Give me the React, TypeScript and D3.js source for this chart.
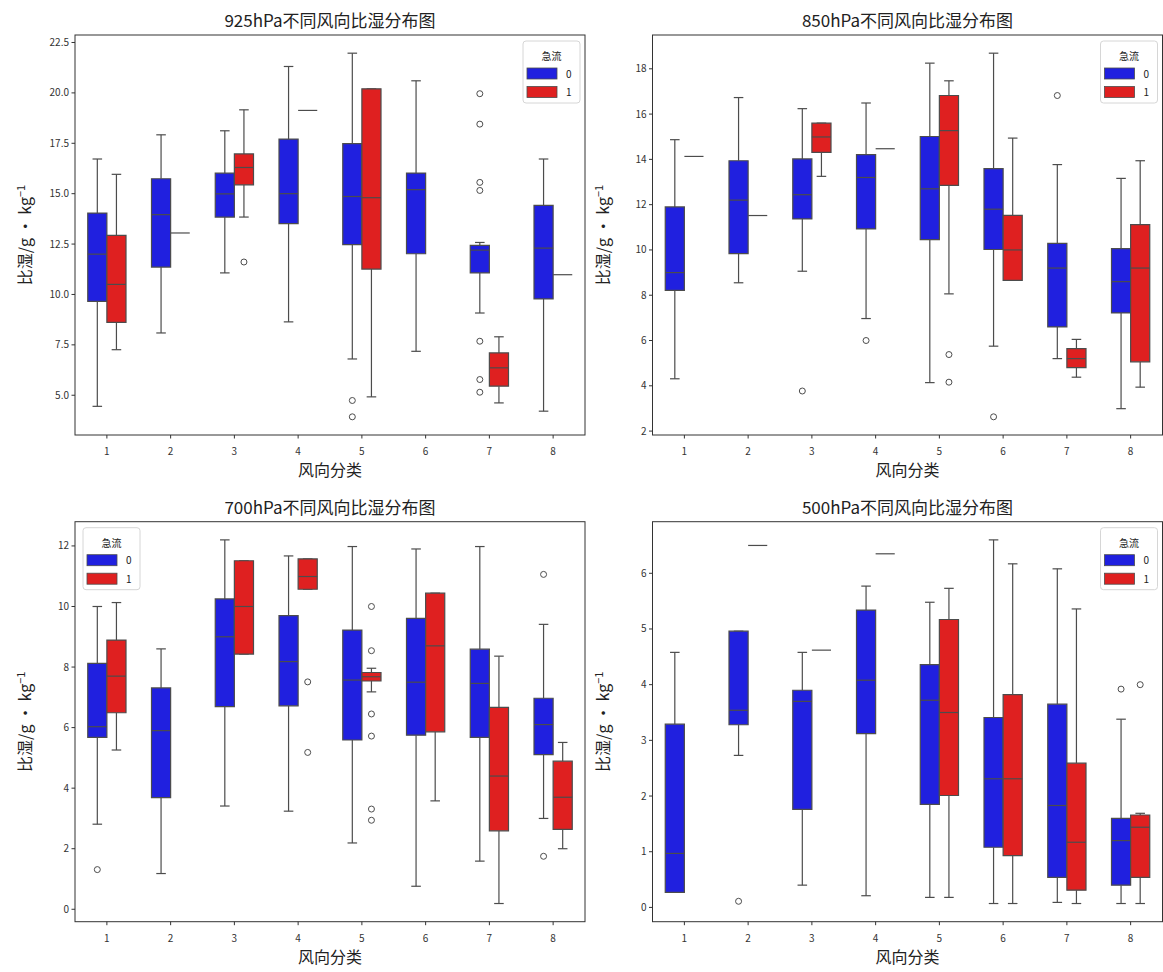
import * as d3 from "d3";

// 风向分类 and 急流 groups
const categories = ["1", "2", "3", "4", "5", "6", "7", "8"];
const jetLevels = ["0", "1"];

// box stats per category: [lower whisker, q1, median, q3, upper whisker]
// a single value means the group had one sample (drawn as a flat line)
const hpa925Jet0 = [
  [4.45, 9.66, 12.0, 14.04, 16.72],
  [8.09, 11.36, 13.96, 15.74, 17.92],
  [11.07, 13.84, 14.99, 16.02, 18.12],
  [8.64, 13.51, 15.0, 17.71, 21.31],
  [6.8, 12.47, 14.86, 17.48, 21.97],
  [7.18, 12.02, 15.2, 16.02, 20.6],
  [9.08, 11.07, 12.2, 12.44, 12.58],
  [4.21, 9.78, 12.3, 14.42, 16.72],
];
const hpa925Jet1 = [
  [7.26, 8.62, 10.5, 12.93, 15.96],
  [13.05],
  [13.84, 15.44, 16.3, 16.97, 19.16],
  [19.13],
  [4.92, 11.26, 14.8, 20.2, 20.2],
  null,
  [4.62, 5.45, 6.36, 7.1, 7.9],
  [10.98],
];
const hpa925Fliers0 = [[], [], [], [], [4.74, 3.93], [], [19.96, 18.45, 15.56, 15.16, 7.68, 5.78, 5.15], []];
const hpa925Fliers1 = [[], [], [11.61], [], [], [], [], []];

const hpa850Jet0 = [
  [4.31, 8.21, 9.0, 11.9, 14.87],
  [8.55, 9.84, 12.2, 13.94, 16.73],
  [9.06, 11.37, 12.44, 14.02, 16.24],
  [6.97, 10.93, 13.2, 14.21, 16.49],
  [4.14, 10.46, 12.7, 15.01, 18.25],
  [5.75, 10.02, 11.8, 13.59, 18.69],
  [5.2, 6.6, 9.2, 10.29, 13.77],
  [2.99, 7.22, 8.6, 10.06, 13.16],
];
const hpa850Jet1 = [
  [14.13],
  [11.52],
  [13.25, 14.31, 14.99, 15.6, 15.6],
  [14.47],
  [8.06, 12.85, 15.27, 16.82, 17.47],
  [8.66, 8.66, 10.0, 11.53, 14.94],
  [4.38, 4.8, 5.2, 5.64, 6.05],
  [3.94, 5.06, 9.2, 11.12, 13.94],
];
const hpa850Fliers0 = [[], [], [3.77], [6.0], [], [2.63], [16.82], []];
const hpa850Fliers1 = [[], [], [], [], [5.38, 4.16], [], [], []];

const hpa700Jet0 = [
  [2.81, 5.68, 6.03, 8.12, 10.0],
  [1.18, 3.69, 5.9, 7.31, 8.6],
  [3.41, 6.69, 9.0, 10.25, 12.2],
  [3.24, 6.72, 8.18, 9.7, 11.67],
  [2.19, 5.59, 7.57, 9.22, 11.98],
  [0.76, 5.75, 7.5, 9.61, 11.9],
  [1.59, 5.68, 7.46, 8.59, 11.98],
  [3.0, 5.11, 6.1, 6.97, 9.41],
];
const hpa700Jet1 = [
  [5.26, 6.49, 7.7, 8.89, 10.13],
  null,
  [8.43, 8.43, 10.0, 11.51, 11.51],
  [10.57, 10.57, 10.99, 11.57, 11.57],
  [7.18, 7.54, 7.68, 7.82, 7.96],
  [3.58, 5.86, 8.7, 10.44, 10.44],
  [0.19, 2.59, 4.4, 6.67, 8.36],
  [2.0, 2.64, 3.7, 4.89, 5.51],
];
const hpa700Fliers0 = [[1.31], [], [], [], [], [], [], [11.06, 1.75]];
const hpa700Fliers1 = [[], [], [], [7.51, 5.18], [10.0, 8.54, 6.45, 5.72, 3.31, 2.94], [], [], []];

const hpa500Jet0 = [
  [0.27, 0.27, 0.97, 3.29, 4.58],
  [2.73, 3.28, 3.54, 4.96, 4.96],
  [0.4, 1.76, 3.7, 3.9, 4.58],
  [0.21, 3.12, 4.08, 5.34, 5.77],
  [0.18, 1.85, 3.72, 4.36, 5.48],
  [0.07, 1.08, 2.31, 3.41, 6.6],
  [0.09, 0.54, 1.83, 3.65, 6.08],
  [0.07, 0.4, 1.2, 1.6, 3.38],
];
const hpa500Jet1 = [
  null,
  [6.5],
  [4.62],
  [6.35],
  [0.18, 2.01, 3.5, 5.17, 5.73],
  [0.07, 0.93, 2.31, 3.82, 6.17],
  [0.07, 0.31, 1.17, 2.59, 5.36],
  [0.07, 0.54, 1.44, 1.66, 1.69],
];
const hpa500Fliers0 = [[], [0.11], [], [], [], [], [], [3.92]];
const hpa500Fliers1 = [[], [], [], [], [], [], [], [4.0]];

const ticks925 = [5.0, 7.5, 10.0, 12.5, 15.0, 17.5, 20.0, 22.5];
const ticks850 = [2, 4, 6, 8, 10, 12, 14, 16, 18];
const ticks700 = [0, 2, 4, 6, 8, 10, 12];
const ticks500 = [0, 1, 2, 3, 4, 5, 6];

const colors = ["#2020df", "#df2020"];
const gray = "#4c4c4c";
const font = "'Noto Sans CJK SC', 'DejaVu Sans', sans-serif";

const W = 510;
const H = 400;

const panels = [
  { title: "925hPa不同风向比湿分布图", left: 75, top: 35, stats: [hpa925Jet0, hpa925Jet1], fliers: [hpa925Fliers0, hpa925Fliers1], ticks: ticks925, fmt: ".1f", legendLeft: false },
  { title: "850hPa不同风向比湿分布图", left: 652.5, top: 35, stats: [hpa850Jet0, hpa850Jet1], fliers: [hpa850Fliers0, hpa850Fliers1], ticks: ticks850, fmt: "d", legendLeft: false },
  { title: "700hPa不同风向比湿分布图", left: 75, top: 521.7, stats: [hpa700Jet0, hpa700Jet1], fliers: [hpa700Fliers0, hpa700Fliers1], ticks: ticks700, fmt: "d", legendLeft: true },
  { title: "500hPa不同风向比湿分布图", left: 652.5, top: 521.7, stats: [hpa500Jet0, hpa500Jet1], fliers: [hpa500Fliers0, hpa500Fliers1], ticks: ticks500, fmt: "d", legendLeft: false },
];

const Legend = ({ x, y }: { x: number; y: number }) => (
  <g transform={`translate(${x},${y})`}>
    <rect width={57} height={62} rx={3} fill="white" fillOpacity={0.85} stroke="#d6d6d6" />
    <text x={28.5} y={19} textAnchor="middle" fontSize={10} fill="#222">急流</text>
    {jetLevels.map((lv, i) => (
      <g key={lv}>
        <rect x={4} y={27 + i * 18.5} width={30} height={11} fill={colors[i]} stroke={gray} strokeWidth={0.8} />
        <text x={43} y={36.5 + i * 18.5} fontSize={10} fill="#222">{lv}</text>
      </g>
    ))}
  </g>
);

const Panel = ({ p }: { p: (typeof panels)[number] }) => {
  const x = d3.scaleBand().domain(categories).range([p.left, p.left + W]).padding(0);
  const bw = x.bandwidth();
  const boxW = bw * 0.3;

  const all: number[] = [];
  p.stats.forEach((s) => s.forEach((v) => v && all.push(...v)));
  p.fliers.forEach((f) => f.forEach((v) => all.push(...v)));
  const [lo, hi] = d3.extent(all) as [number, number];
  const pad = (hi - lo) * 0.05;
  const y = d3.scaleLinear().domain([lo - pad, hi + pad]).range([p.top + H, p.top]);
  const fmt = d3.format(p.fmt);
  const bottom = p.top + H;

  return (
    <g fontFamily={font}>
      <text x={p.left + W / 2} y={p.top - 8} textAnchor="middle" fontSize={17} fill="#222">{p.title}</text>

      {categories.map((c, ci) =>
        p.stats.map((series, hi2) => {
          const s = series[ci];
          const center = x(c)! + bw / 2;
          const x0 = hi2 === 0 ? center - boxW : center;
          const x1 = x0 + boxW;
          const xm = (x0 + x1) / 2;
          const fl = p.fliers[hi2][ci];
          if (!s) return null;
          if (s.length === 1) {
            return <line key={c + hi2} x1={x0} x2={x1} y1={y(s[0])} y2={y(s[0])} stroke={gray} strokeWidth={1.2} />;
          }
          const [wl, q1, med, q3, wh] = s;
          const capHalf = boxW / 4;
          return (
            <g key={c + hi2}>
              <line x1={xm} x2={xm} y1={y(q3)} y2={y(wh)} stroke={gray} strokeWidth={1.2} />
              <line x1={xm} x2={xm} y1={y(q1)} y2={y(wl)} stroke={gray} strokeWidth={1.2} />
              <line x1={xm - capHalf} x2={xm + capHalf} y1={y(wh)} y2={y(wh)} stroke={gray} strokeWidth={1.2} />
              <line x1={xm - capHalf} x2={xm + capHalf} y1={y(wl)} y2={y(wl)} stroke={gray} strokeWidth={1.2} />
              <path d={`M${x0},${y(q1)}L${x1},${y(q1)}L${x1},${y(q3)}L${x0},${y(q3)}Z`} fill={colors[hi2]} stroke={gray} strokeWidth={1.2} />
              <line x1={x0} x2={x1} y1={y(med)} y2={y(med)} stroke={gray} strokeWidth={1.2} />
              {fl.map((v, k) => (
                <circle key={k} cx={xm} cy={y(v)} r={3} fill="none" stroke={gray} strokeWidth={1} />
              ))}
            </g>
          );
        })
      )}

      <rect x={p.left} y={p.top} width={W} height={H} fill="none" stroke="#333" strokeWidth={1} />

      {p.ticks.map((t) => (
        <g key={t}>
          <line x1={p.left - 3.5} x2={p.left} y1={y(t)} y2={y(t)} stroke="#333" />
          <text x={p.left - 6} y={y(t)} dy="0.35em" textAnchor="end" fontSize={10} fill="#333">{fmt(t)}</text>
        </g>
      ))}
      {categories.map((c) => (
        <g key={c}>
          <line x1={x(c)! + bw / 2} x2={x(c)! + bw / 2} y1={bottom} y2={bottom + 3.5} stroke="#333" />
          <text x={x(c)! + bw / 2} y={bottom + 20} textAnchor="middle" fontSize={10} fill="#333">{c}</text>
        </g>
      ))}

      <text x={p.left + W / 2} y={bottom + 41} textAnchor="middle" fontSize={16} fill="#222">风向分类</text>
      <text transform={`translate(${p.left - 44},${p.top + H / 2}) rotate(-90)`} textAnchor="middle" fontSize={16} fill="#222">
        <tspan>比湿/g · kg</tspan>
        <tspan dy={-6} fontSize={11}>−1</tspan>
      </text>

      <Legend x={p.legendLeft ? p.left + 8 : p.left + W - 62} y={p.top + 6} />
    </g>
  );
};

export default function App() {
  return (
    <div style={{ position: "absolute", left: 0, top: 0 }}>
      <svg width={1163} height={972} viewBox="0 0 1163 972" style={{ display: "block", background: "white" }}>
        {panels.map((p) => (
          <Panel key={p.title} p={p} />
        ))}
      </svg>
    </div>
  );
}
